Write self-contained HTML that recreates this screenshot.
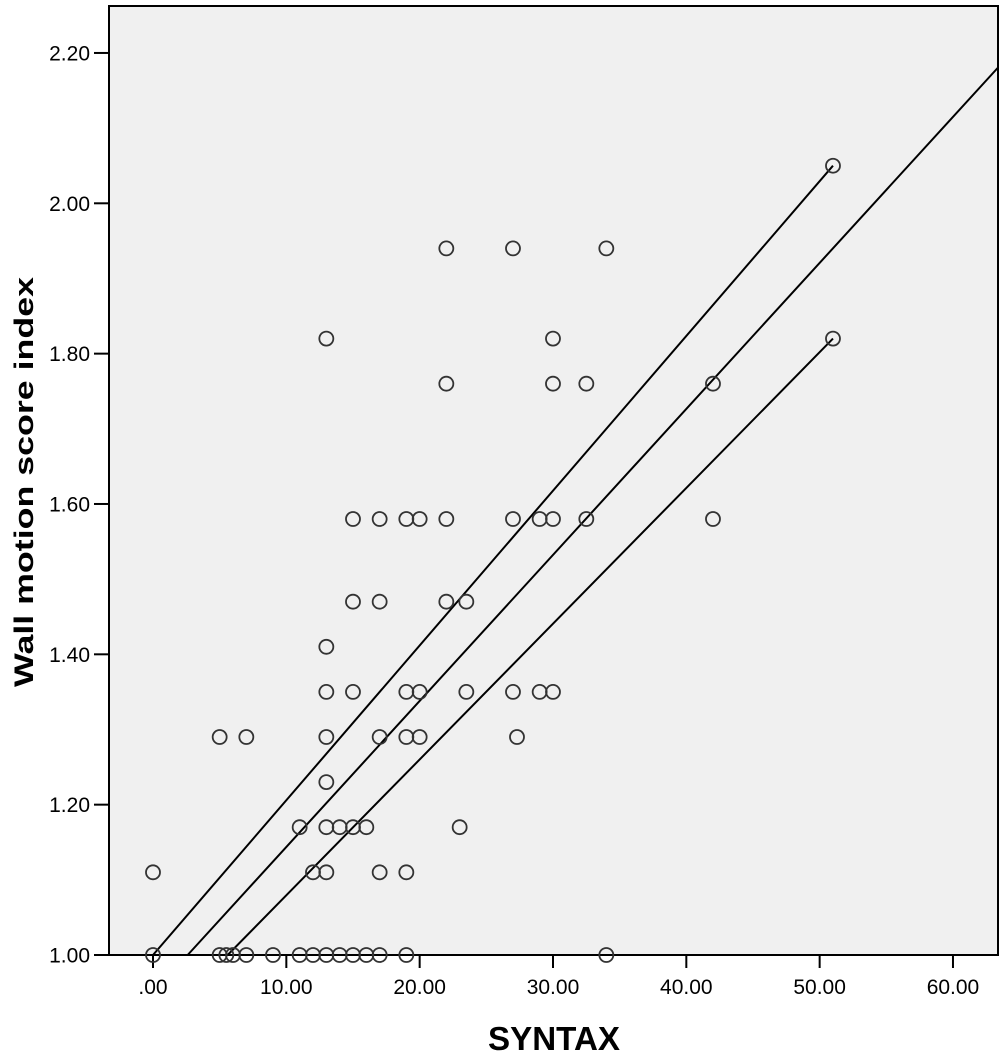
<!DOCTYPE html>
<html><head><meta charset="utf-8"><style>
body{margin:0;background:#fff;}
svg{display:block;font-family:"Liberation Sans",sans-serif;}
</style></head><body>
<svg id="chart" width="1005" height="1057">
<rect x="109" y="6" width="889" height="949" fill="#f0f0f0" stroke="#000" stroke-width="2"/>
<g id="axes"></g><g id="fits"></g><g id="pts"></g>
<text x="554" y="1050" text-anchor="middle" font-size="33" font-weight="bold" textLength="132" lengthAdjust="spacingAndGlyphs">SYNTAX</text>
<text transform="translate(33,482) rotate(-90)" text-anchor="middle" font-size="27" font-weight="bold" textLength="410" lengthAdjust="spacingAndGlyphs">Wall motion score index</text>
</svg>
<script>
const xTicks=[0,10,20,30,40,50,60];
const xTickLabels=[".00","10.00","20.00","30.00","40.00","50.00","60.00"];
const yTicks=[1.0,1.2,1.4,1.6,1.8,2.0,2.2];
const yTickLabels=["1.00","1.20","1.40","1.60","1.80","2.00","2.20"];
const syntaxVals=[0,5,5.5,6,7,9,11,12,13,14,15,16,17,19,34, 0,12,13,17,19, 11,13,14,15,16,23, 13, 5,7,13,17,19,20,27.3, 13,15,19,20,23.5,27,29,30, 13, 15,17,22,23.5, 15,17,19,20,22,27,29,30,32.5,42, 22,30,32.5,42, 13,30,51, 22,27,34, 51];
const wmsiVals=[1,1,1,1,1,1,1,1,1,1,1,1,1,1,1, 1.11,1.11,1.11,1.11,1.11, 1.17,1.17,1.17,1.17,1.17,1.17, 1.23, 1.29,1.29,1.29,1.29,1.29,1.29,1.29, 1.35,1.35,1.35,1.35,1.35,1.35,1.35,1.35, 1.41, 1.47,1.47,1.47,1.47, 1.58,1.58,1.58,1.58,1.58,1.58,1.58,1.58,1.58,1.58, 1.76,1.76,1.76,1.76, 1.82,1.82,1.82, 1.94,1.94,1.94, 2.05];
const fitNames=["upper-ci-line","fit-line","lower-ci-line"];
const fitX0=[0,2.6,5.6];
const fitY0=[1.0,1.0,1.0];
const fitX1=[51,63.4,51];
const fitY1=[2.05,2.181,1.82];
const X=v=>153+v*13.333, Y=v=>955-(v-1)*751.7;
const NS="http://www.w3.org/2000/svg";
function mk(t,a,p){const e=document.createElementNS(NS,t);for(const k in a)e.setAttribute(k,a[k]);p.appendChild(e);return e;}
const ax=document.getElementById('axes');
xTicks.forEach((v,i)=>{
 const l=mk('line',{x1:X(v),x2:X(v),y1:955,y2:968,stroke:'#000','stroke-width':2},ax);
 
 
 const t=mk('text',{x:X(v),y:994,'text-anchor':'middle','font-size':21},ax);t.textContent=xTickLabels[i];
 
 
});
yTicks.forEach((v,i)=>{
 const l=mk('line',{x1:94,x2:109,y1:Y(v),y2:Y(v),stroke:'#000','stroke-width':2},ax);
 
 
 const t=mk('text',{x:90,y:Y(v)+7.5,'text-anchor':'end','font-size':21},ax);t.textContent=yTickLabels[i];
 
 
});
const fg=document.getElementById('fits');
fitNames.forEach((n,i)=>{
 const l=mk('line',{x1:X(fitX0[i]),y1:Y(fitY0[i]),x2:X(fitX1[i]),y2:Y(fitY1[i]),stroke:'#000','stroke-width':2},fg);
 
 
});
const pg=document.getElementById('pts');
syntaxVals.forEach((v,i)=>{
 const c=mk('circle',{cx:X(v),cy:Y(wmsiVals[i]),r:7,fill:'none',stroke:'#333','stroke-width':1.8},pg);
 
 
});
</script>
</body></html>
